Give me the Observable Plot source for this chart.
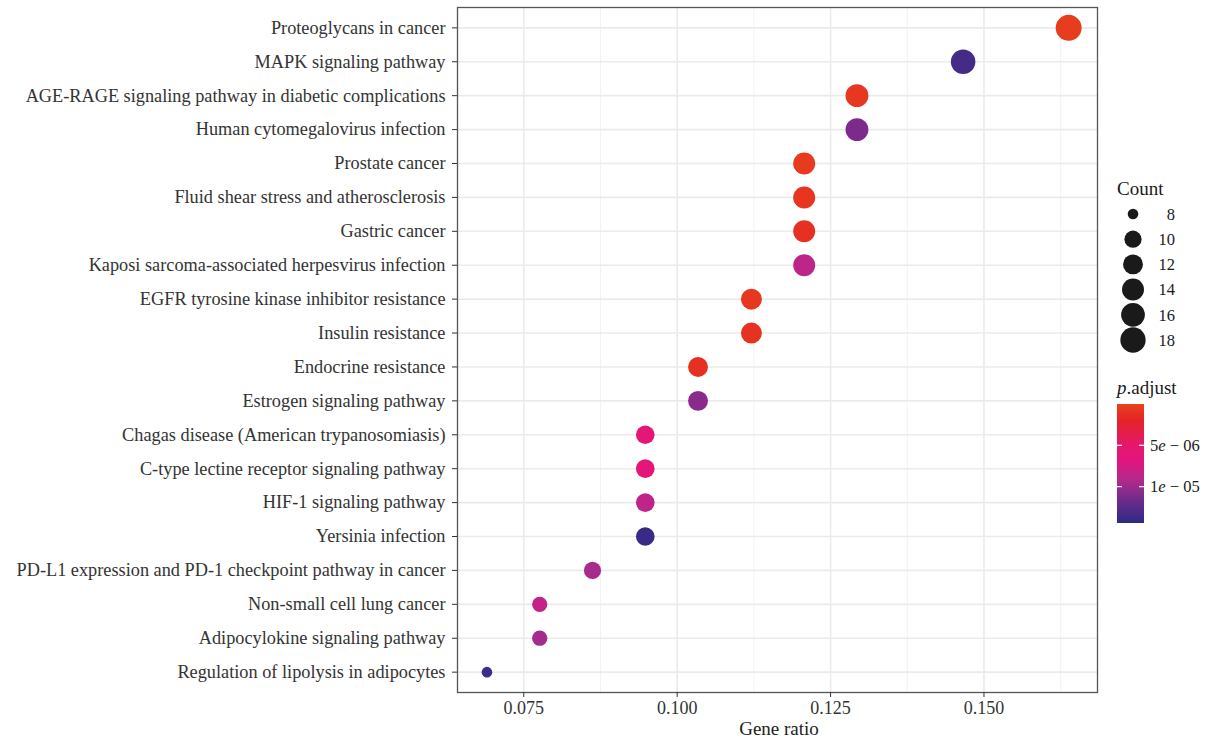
<!DOCTYPE html>
<html><head><meta charset="utf-8">
<script src="https://cdn.jsdelivr.net/npm/d3@7"></script>
<script src="https://cdn.jsdelivr.net/npm/@observablehq/plot@0.6"></script>
<style>
body{margin:0;background:#fff;font-family:"Liberation Serif","Times New Roman",serif}
#wrap{position:relative;width:1210px;height:743px}
#xtitle{position:absolute;left:779px;top:729px;transform:translate(-50%,-50%);font-size:19px;color:#222;white-space:nowrap}
#legend{position:absolute;left:0;top:0;font-family:"Liberation Serif","Times New Roman",serif}
#legend text{font-family:"Liberation Serif","Times New Roman",serif}
</style>
</head><body>
<div id="wrap"><div id="chart"></div><div id="xtitle">Gene ratio</div><svg id="legend" width="1210" height="743"></svg></div>
<script>
const pathways = [
  "Proteoglycans in cancer",
  "MAPK signaling pathway",
  "AGE-RAGE signaling pathway in diabetic complications",
  "Human cytomegalovirus infection",
  "Prostate cancer",
  "Fluid shear stress and atherosclerosis",
  "Gastric cancer",
  "Kaposi sarcoma-associated herpesvirus infection",
  "EGFR tyrosine kinase inhibitor resistance",
  "Insulin resistance",
  "Endocrine resistance",
  "Estrogen signaling pathway",
  "Chagas disease (American trypanosomiasis)",
  "C-type lectine receptor signaling pathway",
  "HIF-1 signaling pathway",
  "Yersinia infection",
  "PD-L1 expression and PD-1 checkpoint pathway in cancer",
  "Non-small cell lung cancer",
  "Adipocylokine signaling pathway",
  "Regulation of lipolysis in adipocytes"
];
const geneRatio = [0.1638, 0.1466, 0.1293, 0.1293, 0.1207, 0.1207, 0.1207, 0.1207, 0.1121, 0.1121,
                   0.1034, 0.1034, 0.0948, 0.0948, 0.0948, 0.0948, 0.0862, 0.0776, 0.0776, 0.0690];
const counts = [19, 17, 15, 15, 14, 14, 14, 14, 13, 13, 12, 12, 11, 11, 11, 11, 10, 9, 9, 8];
const pAdjust = [4e-7, 1.34e-5, 8e-7, 1.11e-5, 6e-7, 9e-7, 1.2e-6, 8.6e-6, 7e-7, 1.0e-6,
                 1.1e-6, 1.06e-5, 6.2e-6, 6.3e-6, 8.6e-6, 1.39e-5, 9.6e-6, 8.3e-6, 9.7e-6, 1.37e-5];
const xTicks = [0.075, 0.100, 0.125, 0.150];
const xMinor = [0.0875, 0.1125, 0.1375, 0.1625];
const countTicks = [8, 10, 12, 14, 16, 18];
const pTicks = [5e-6, 1e-5];
const pTickLabels = [["5", "e", " − 06"], ["1", "e", " − 05"]];

const data = pathways.map((p, i) => ({pathway: p, ratio: geneRatio[i], count: counts[i], p: pAdjust[i]}));

const colorDomain = [0, 1.9e-6, 5e-6, 6.8e-6, 9.2e-6, 1.16e-5, 1.44e-5];
const colorRange = ["#E8441C", "#E52425", "#E5176C", "#E3157E", "#B22A8C", "#6E2B8C", "#2E2A86"];
const rTransform = c => Math.sqrt(c - 8);
const serif = "'Liberation Serif','Times New Roman',serif";

const plot = Plot.plot({
  width: 1110, height: 743,
  marginLeft: 457, marginRight: 13, marginTop: 7, marginBottom: 51,
  style: {fontFamily: serif, background: "transparent"},
  x: {domain: [0.0642, 0.1685]},
  y: {type: "point", domain: pathways, padding: 0.6, round: false},
  r: {type: "linear", transform: rTransform, domain: [0, Math.sqrt(11)], range: [5.3, 13]},
  color: {type: "linear", domain: colorDomain, range: colorRange, interpolate: "rgb"},
  marks: [
    Plot.gridX(xMinor, {stroke: "#F3F3F3", strokeOpacity: 1, strokeWidth: 1}),
    Plot.gridX(xTicks, {stroke: "#EBEBEB", strokeOpacity: 1, strokeWidth: 1.6}),
    Plot.gridY(pathways, {stroke: "#EBEBEB", strokeOpacity: 1, strokeWidth: 1.6}),
    Plot.dot(data, {x: "ratio", y: "pathway", r: "count", fill: "p"}),
    Plot.frame({stroke: "#555", strokeWidth: 1.3}),
    Plot.axisY({tickSize: 5, tickPadding: 7, label: null, fontSize: 18.3, color: "#333", stroke: "#333"}),
    Plot.axisX(xTicks, {tickSize: 5, tickPadding: 4, label: null, fontSize: 18, color: "#333",
                        tickFormat: d3.format(".3f")})
  ]
});
document.getElementById("chart").appendChild(plot);

// Legends built from the plot's own scales
const rs = plot.scale("r");
const cs = plot.scale("color");
const svg = d3.select("#legend");
const dark = "#1a1a1a";

svg.append("text").attr("x", 1117).attr("y", 195).attr("font-size", 19).attr("fill", dark).text("Count");
countTicks.forEach((c, i) => {
  const cy = 214 + i * 25.2;
  let rr;
  try { rr = rs.apply(rTransform(c)); } catch (e) { rr = NaN; }
  if (!isFinite(rr)) rr = 5.3 + (13 - 5.3) * rTransform(c) / Math.sqrt(11);
  svg.append("circle").attr("cx", 1133).attr("cy", cy).attr("r", rr).attr("fill", dark);
  svg.append("text").attr("x", 1175).attr("y", cy).attr("dy", "0.35em").attr("text-anchor", "end")
    .attr("font-size", 16.5).attr("fill", dark).text(c);
});

const t2 = svg.append("text").attr("x", 1117).attr("y", 394).attr("font-size", 19).attr("fill", dark);
t2.append("tspan").attr("font-style", "italic").text("p");
t2.append("tspan").text(".adjust");

const barX = 1117, barW = 27, barY = 404, barH = 119;
const pMin = colorDomain[0], pMax = colorDomain[colorDomain.length - 1];
const grad = svg.append("defs").append("linearGradient").attr("id", "cbar")
  .attr("x1", 0).attr("y1", 0).attr("x2", 0).attr("y2", 1);
d3.range(0, 41).forEach(k => {
  const t = k / 40;
  grad.append("stop").attr("offset", t).attr("stop-color", cs.apply(pMin + t * (pMax - pMin)));
});
svg.append("rect").attr("x", barX).attr("y", barY).attr("width", barW).attr("height", barH).attr("fill", "url(#cbar)");
pTicks.forEach((v, i) => {
  const y = barY + (v - pMin) / (pMax - pMin) * barH;
  svg.append("line").attr("x1", barX).attr("x2", barX + 5).attr("y1", y).attr("y2", y).attr("stroke", "#fff").attr("stroke-width", 1.2);
  svg.append("line").attr("x1", barX + barW - 5).attr("x2", barX + barW).attr("y1", y).attr("y2", y).attr("stroke", "#fff").attr("stroke-width", 1.2);
  const tx = svg.append("text").attr("x", 1150).attr("y", y).attr("dy", "0.35em").attr("font-size", 16.5).attr("fill", dark);
  tx.append("tspan").text(pTickLabels[i][0]);
  tx.append("tspan").attr("font-style", "italic").text(pTickLabels[i][1]);
  tx.append("tspan").text(pTickLabels[i][2]);
});
</script>
</body></html>
